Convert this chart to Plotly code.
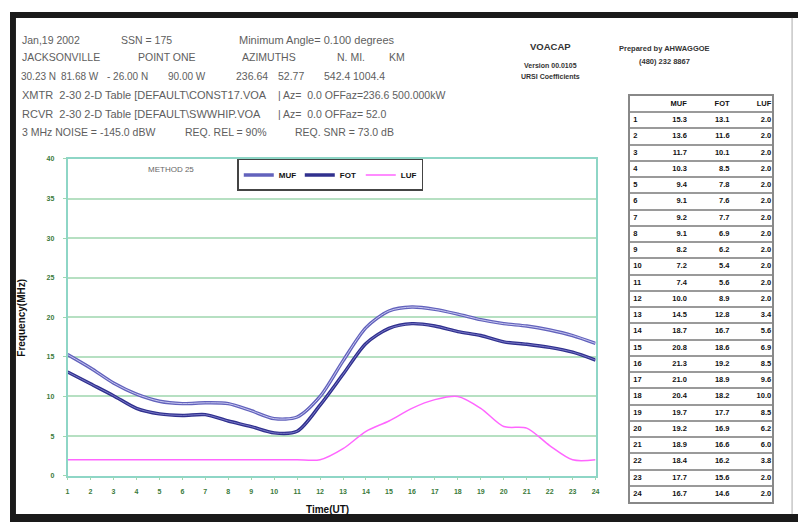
import plotly.graph_objects as go

hours = list(range(1, 25))
muf = [15.3, 13.6, 11.7, 10.3, 9.4, 9.1, 9.2, 9.1, 8.2, 7.2, 7.4, 10.0,
       14.5, 18.7, 20.8, 21.3, 21.0, 20.4, 19.7, 19.2, 18.9, 18.4, 17.7, 16.7]
fot = [13.1, 11.6, 10.1, 8.5, 7.8, 7.6, 7.7, 6.9, 6.2, 5.4, 5.6, 8.9,
       12.8, 16.7, 18.6, 19.2, 18.9, 18.2, 17.7, 16.9, 16.6, 16.2, 15.6, 14.6]
luf = [2.0, 2.0, 2.0, 2.0, 2.0, 2.0, 2.0, 2.0, 2.0, 2.0, 2.0, 2.0,
       3.4, 5.6, 6.9, 8.5, 9.6, 10.0, 8.5, 6.2, 6.0, 3.8, 2.0, 2.0]
col_names = ["MUF", "FOT", "LUF"]

# the page body has an 8px margin; the figure fills the rest of the window
OX, OY = 8, 8
W, H = 806 - OX, 525 - OY
def px(x):
    return (x - OX) / W
def py(y):
    return 1 - (y - OY) / H

fig = go.Figure()

spl = dict(shape="spline", smoothing=0.8)
fig.add_trace(go.Scatter(x=hours, y=muf, name="MUF", mode="lines",
                         line=dict(color="#6262bc", width=3.4, **spl)))
fig.add_trace(go.Scatter(x=hours, y=muf, showlegend=False, mode="lines", hoverinfo="skip",
                         line=dict(color="#c8c8f0", width=1.0, **spl)))
fig.add_trace(go.Scatter(x=hours, y=fot, name="FOT", mode="lines",
                         line=dict(color="#30308e", width=3.4, **spl)))
fig.add_trace(go.Scatter(x=hours, y=fot, showlegend=False, mode="lines", hoverinfo="skip",
                         line=dict(color="#7878c6", width=1.0, **spl)))
fig.add_trace(go.Scatter(x=hours, y=luf, name="LUF", mode="lines",
                         line=dict(color="#ff66ff", width=1.5, **spl)))

# table drawn on a second set of axes
tfont = dict(family="Liberation Sans", size=7.5, color="#111111", weight="bold")
rows = list(range(1, 25))
fig.add_trace(go.Scatter(x=[3] * 24, y=rows, text=[str(r) for r in rows], mode="text",
                         textposition="middle right", textfont=tfont, showlegend=False,
                         xaxis="x2", yaxis="y2", hoverinfo="skip"))
for cx, vals, name in [(57, muf, col_names[0]), (100, fot, col_names[1]), (142, luf, col_names[2])]:
    fig.add_trace(go.Scatter(x=[cx] * 25, y=[0] + rows,
                             text=[name] + [f"{v:.1f}" for v in vals], mode="text",
                             textposition="middle left", textfont=tfont, showlegend=False,
                             xaxis="x2", yaxis="y2", hoverinfo="skip"))

green = "#3a7a3a"
fig.update_layout(
    width=W, height=H, autosize=False,
    margin=dict(l=0, r=0, t=0, b=0),
    paper_bgcolor="white", plot_bgcolor="white",
    font=dict(family="Liberation Sans"),
    xaxis=dict(domain=[px(66), px(598)], range=[1, 24], tickvals=hours,
               showgrid=False, zeroline=False,
               showline=True, linecolor="#8ed6c6", linewidth=1.5, mirror=True,
               ticks="outside", ticklen=3, tickcolor="#9fd8b0",
               ticklabelstandoff=5,
               tickfont=dict(family="Liberation Sans", size=7, color=green, weight="bold")),
    yaxis=dict(domain=[py(478), py(157)], range=[0, 40], dtick=5,
               showgrid=True, gridcolor="#b6e0c2", gridwidth=1.5, zeroline=False,
               showline=True, linecolor="#8ed6c6", linewidth=1.5, mirror=True,
               ticks="outside", ticklen=3, tickcolor="#9fd8b0",
               ticklabelstandoff=7,
               tickfont=dict(family="Liberation Sans", size=7, color=green, weight="bold")),
    xaxis2=dict(domain=[px(633), px(776)], range=[0, 143], anchor="y2",
                showgrid=False, zeroline=False, showticklabels=False, ticks="",
                showline=True, linecolor="#888888", linewidth=2, mirror=True, fixedrange=True),
    yaxis2=dict(domain=[py(505), py(93)], range=[24.5, -0.5], anchor="x2",
                tickvals=[r - 0.5 for r in rows], showticklabels=False, ticks="",
                showgrid=True, gridcolor="#9a9a9a", gridwidth=1.6, zeroline=False,
                showline=True, linecolor="#888888", linewidth=2, mirror=True, fixedrange=True),
    legend=dict(orientation="h", x=px(237), y=py(157), xanchor="left", yanchor="top",
                bgcolor="white", bordercolor="#444444", borderwidth=1.5,
                font=dict(family="Liberation Sans", size=8, color="#111111", weight="bold"),
                entrywidth=16, entrywidthmode="pixels", itemwidth=30,
                tracegroupgap=0),
)

ann = []
def txt(x, y, s, size=10.5, color="#5e5e5e", anchor="left", weight="normal"):
    ann.append(dict(x=px(x), y=py(y), xref="paper", yref="paper", text=s, showarrow=False,
                    xanchor=anchor, yanchor="middle",
                    font=dict(family="Liberation Sans", size=size, color=color, weight=weight)))

# header block
txt(18, 36.5, "Jan,19 2002")
txt(118, 36.5, "SSN = 175")
txt(237, 36.5, "Minimum Angle= 0.100 degrees", size=11)
txt(18, 53.5, "JACKSONVILLE")
txt(135, 53.5, "POINT ONE")
txt(240, 53.5, "AZIMUTHS")
txt(335, 53.5, "N. MI.")
txt(388, 53.5, "KM")
txt(17, 73, "30.23 N", size=10)
txt(57, 73, "81.68 W", size=10)
txt(104, 73, "- 26.00 N", size=10)
txt(165, 73, "90.00 W", size=10)
txt(234, 73, "236.64")
txt(276, 73, "52.77")
txt(322, 73, "542.4")
txt(352, 73, "1004.4")
txt(18, 92, "XMTR  2-30 2-D Table [DEFAULT\\CONST17.VOA", size=11)
txt(276, 92, "| Az=  0.0 OFFaz=236.6 500.000kW")
txt(18, 111.5, "RCVR  2-30 2-D Table [DEFAULT\\SWWHIP.VOA", size=11)
txt(276, 111.5, "| Az=  0.0 OFFaz= 52.0")
txt(18, 130, "3 MHz NOISE = -145.0 dBW")
txt(182, 130, "REQ. REL = 90%")
txt(293, 130, "REQ. SNR = 73.0 dB")

txt(553, 43, "VOACAP", size=9.5, color="#333333", anchor="center", weight="bold")
txt(553, 62, "Version 00.0105", size=7, color="#333333", anchor="center", weight="bold")
txt(553, 73.5, "URSI Coefficients", size=7, color="#333333", anchor="center", weight="bold")
txt(667, 45.5, "Prepared by AHWAGGOE", size=7.5, color="#333333", anchor="center", weight="bold")
txt(667, 58, "(480) 232 8867", size=7.5, color="#333333", anchor="center", weight="bold")

txt(170, 168, "METHOD 25", size=8, color="#666666", anchor="center")

# axis titles
ann.append(dict(x=px(20), y=py(318), xref="paper", yref="paper", text="Frequency(MHz)",
                showarrow=False, textangle=-90, xanchor="center", yanchor="middle",
                font=dict(family="Liberation Sans", size=10, color="#111111", weight="bold")))
txt(328, 512, "Time(UT)", size=10, color="#111111", anchor="center", weight="bold")

fig.update_layout(annotations=ann)

# page frame
shapes = [
    dict(type="rect", xref="paper", yref="paper", x0=px(8), x1=1, y0=py(14), y1=py(8),
         fillcolor="#1a1a1a", line=dict(width=0)),
    dict(type="rect", xref="paper", yref="paper", x0=px(8), x1=px(14), y0=0, y1=py(8),
         fillcolor="#1a1a1a", line=dict(width=0)),
    dict(type="rect", xref="paper", yref="paper", x0=px(8), x1=1, y0=0, y1=py(517),
         fillcolor="#1a1a1a", line=dict(width=0)),
    dict(type="line", xref="paper", yref="paper", x0=px(796), x1=px(796), y0=py(517), y1=py(14),
         line=dict(color="#aaaaaa", width=1)),
]
fig.update_layout(shapes=shapes)

fig.write_html("out.html")
